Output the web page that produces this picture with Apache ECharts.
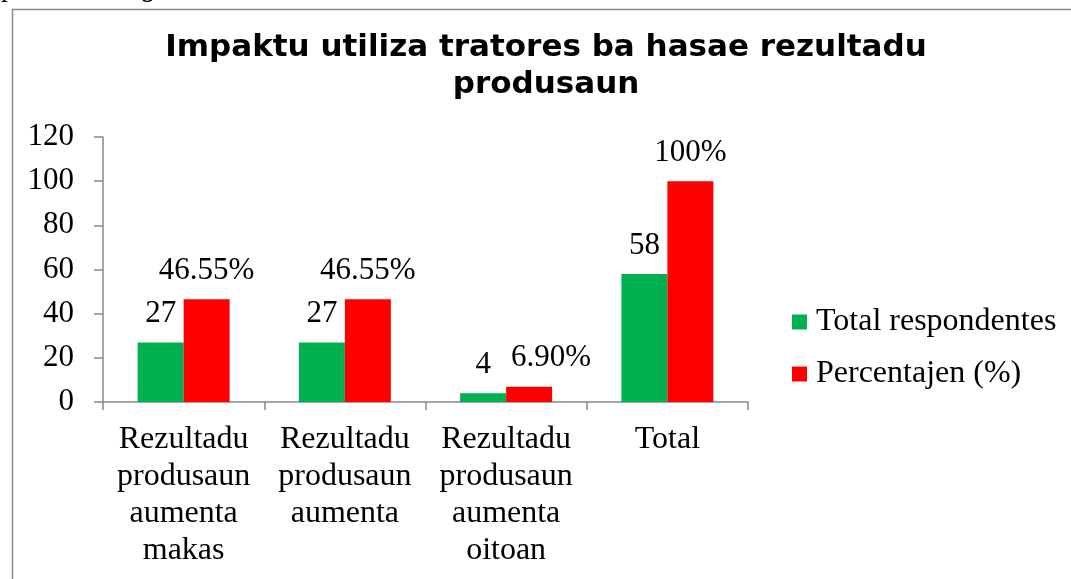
<!DOCTYPE html>
<html>
<head>
<meta charset="utf-8">
<script src="https://cdn.jsdelivr.net/npm/echarts@6/dist/echarts.min.js"></script>
<style>
html,body{margin:0;padding:0;background:#fff;}
#chart{width:1071px;height:579px;}
</style>
</head>
<body>
<div id="chart"></div>
<script>
const titleText = "Impaktu utiliza tratores ba hasae rezultadu\nprodusaun";
const captionText = "produsaun agrícola";
const categories = [
  "Rezultadu\nprodusaun\naumenta\nmakas",
  "Rezultadu\nprodusaun\naumenta",
  "Rezultadu\nprodusaun\naumenta\noitoan",
  "Total"
];
const seriesNames = ["Total respondentes", "Percentajen (%)"];
const totalRespondentes = [27, 27, 4, 58];
const percentajen = [46.55, 46.55, 6.90, 100];
const percentLabels = ["46.55%", "46.55%", "6.90%", "100%"];
const yTicks = [0, 20, 40, 60, 80, 100, 120];

// label nudges (style only): Excel shifted the small "6.90%" label right
const percentLabelShift = [0, 0, 22, 0];

const serif = "'Liberation Serif','Times New Roman',serif";
const chart = echarts.init(document.getElementById('chart'), null, {renderer: 'canvas'});
const labelStyle = {show: true, position: 'top', distance: 13, fontFamily: serif, fontSize: 31, color: '#000'};

chart.setOption({
  animation: false,
  backgroundColor: '#fff',
  graphic: [
    {type: 'rect', left: 10, top: 7, shape: {width: 1200, height: 700},
     style: {fill: 'none', stroke: '#888', lineWidth: 1.5}, silent: true},
    {type: 'text', left: 3, top: -25,
     style: {text: captionText, font: "italic 28px 'Liberation Serif'", fill: '#000'}}
  ],
  title: {
    text: titleText,
    left: 541, top: 24, textAlign: 'center',
    textStyle: {fontFamily: 'DejaVu Sans', fontWeight: 'bold', fontSize: 31, lineHeight: 37, color: '#000'}
  },
  legend: {
    orient: 'vertical', left: 787, top: 301, itemWidth: 15, itemHeight: 15, itemGap: 20,
    icon: 'rect',
    textStyle: {fontFamily: serif, fontSize: 32, color: '#000', padding: [0,0,0,4]},
    data: seriesNames
  },
  grid: {left: 103, right: 323, top: 137, bottom: 177, containLabel: false},
  xAxis: {
    type: 'category', data: categories,
    axisLine: {lineStyle: {color: '#888', width: 1.5}},
    axisTick: {show: true, alignWithLabel: false, length: 8, lineStyle: {color: '#888', width: 1.5}},
    axisLabel: {interval: 0, margin: 19, fontFamily: serif, fontSize: 32, lineHeight: 37, color: '#000'}
  },
  yAxis: {
    type: 'value', min: 0, max: 120, interval: 20,
    splitLine: {show: false},
    axisLine: {show: true, lineStyle: {color: '#888', width: 1.5}},
    axisTick: {show: true, length: 9, lineStyle: {color: '#888', width: 1.5}},
    axisLabel: {margin: 29, fontFamily: serif, fontSize: 31, color: '#000',
      formatter: v => yTicks.includes(v) ? String(v) : ''}
  },
  series: [
    {name: seriesNames[0], type: 'bar', data: totalRespondentes, barWidth: 46, barGap: '0%',
     itemStyle: {color: '#00B050'}, label: labelStyle},
    {name: seriesNames[1], type: 'bar', barWidth: 46, barGap: '0%',
     itemStyle: {color: '#FF0000'},
     data: percentajen.map((v, i) => ({value: v, label: {offset: [percentLabelShift[i], 0]}})),
     label: Object.assign({}, labelStyle, {formatter: p => percentLabels[p.dataIndex]})}
  ]
});
</script>
</body>
</html>
